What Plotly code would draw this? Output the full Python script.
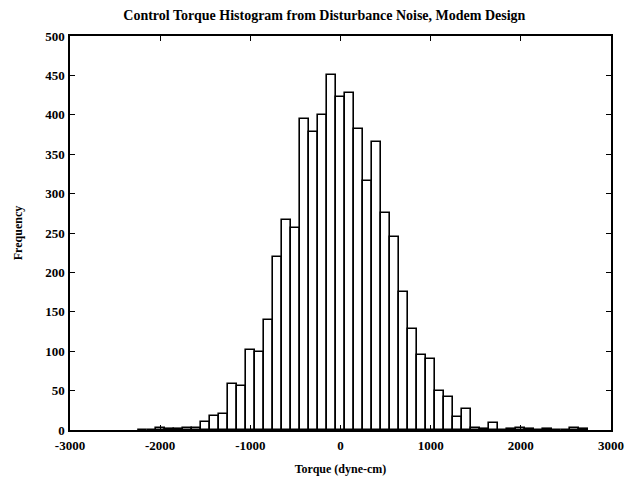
import plotly.graph_objects as go

# Histogram bin centres (dyne-cm) and counts per 100 dyne-cm bin
bin_centers = [-2200, -2100, -2000, -1900, -1800, -1700, -1600, -1500, -1400, -1300,
               -1200, -1100, -1000, -900, -800, -700, -600, -500, -400, -300,
               -200, -100, 0, 100, 200, 300, 400, 500, 600, 700,
               800, 900, 1000, 1100, 1200, 1300, 1400, 1500, 1600, 1700,
               1800, 1900, 2000, 2100, 2200, 2300, 2400, 2500, 2600, 2700]
counts = [0, 0, 2, 1, 1, 2, 3, 10, 18, 20,
          59, 56, 101, 99, 140, 219, 266, 256, 395, 378,
          400, 451, 423, 428, 382, 316, 366, 275, 245, 175,
          128, 95, 90, 49, 42, 16, 27, 2, 1, 9,
          0, 1, 2, 1, 0, 1, 0, 0, 2, 1]
bin_width = 100

x_ticks = [-3000, -2000, -1000, 0, 1000, 2000, 3000]
y_ticks = list(range(0, 501, 50))

serif = "Liberation Serif, Times New Roman, serif"

fig = go.Figure(
    go.Bar(
        x=bin_centers,
        y=counts,
        width=bin_width,
        marker=dict(color="white", line=dict(color="black", width=1.6)),
    )
)

axis_common = dict(
    showgrid=False,
    zeroline=False,
    showline=True,
    linecolor="black",
    linewidth=1.5,
    mirror="ticks",
    ticks="inside",
    ticklen=5,
    tickcolor="black",
    tickwidth=1,
    tickfont=dict(family=serif, size=13, color="black"),
)

fig.update_layout(
    width=636,
    height=486,
    margin=dict(l=70, r=19, t=36, b=56),
    paper_bgcolor="white",
    plot_bgcolor="white",
    showlegend=False,
    bargap=0,
    title=dict(
        text="<b>Control Torque Histogram from Disturbance Noise, Modem Design</b>",
        x=0.51,
        xanchor="center",
        y=0.968,
        yanchor="middle",
        font=dict(family=serif, size=14, color="black"),
    ),
    xaxis=dict(
        range=[-3000, 3000],
        tickvals=x_ticks,
        ticktext=[f"<b>{v}</b>" for v in x_ticks],
        ticklabelstandoff=3,
        title=dict(text="<b>Torque (dyne-cm)</b>", font=dict(family=serif, size=12, color="black"), standoff=12),
        **axis_common,
    ),
    yaxis=dict(
        range=[0, 500],
        tickvals=y_ticks,
        ticktext=[f"<b>{v}</b>" for v in y_ticks],
        ticklabelstandoff=1,
        title=dict(text="<b>Frequency</b>", font=dict(family=serif, size=12, color="black"), standoff=20),
        **axis_common,
    ),
)

fig.write_html("out.html")
